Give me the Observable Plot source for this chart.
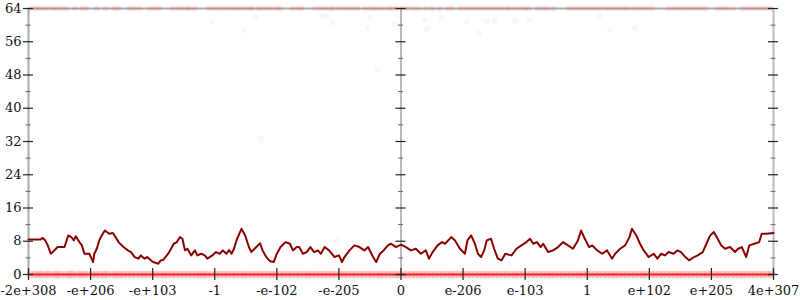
<!DOCTYPE html>
<html><head><meta charset="utf-8">
<script src="https://cdn.jsdelivr.net/npm/d3@7"></script>
<script src="https://cdn.jsdelivr.net/npm/@observablehq/plot@0.6"></script>
<style>body{margin:0;background:#fff} svg{display:block}</style>
</head><body><div id="chart"></div>
<script>
const xTickLabels = ["-2e+308","-e+206","-e+103","-1","-e-102","-e-205","0","e-206","e-103","1","e+102","e+205","4e+307"];
const yMajor = [0,8,16,24,32,40,48,56,64];
const yMinor = [4,12,20,28,36,44,52,60];

const lineX = [0,0.19,0.23,0.27,0.31,0.36,0.39,0.47,0.58,0.64,0.69,0.73,0.76,0.82,0.86,0.90,0.98,1.04,1.06,1.10,1.14,1.18,1.23,1.30,1.36,1.42,1.45,1.53,1.60,1.65,1.71,1.77,1.81,1.87,1.91,1.97,2.01,2.09,2.13,2.17,2.25,2.28,2.34,2.39,2.44,2.48,2.52,2.56,2.62,2.68,2.72,2.78,2.84,2.88,2.96,3.02,3.08,3.13,3.19,3.23,3.27,3.31,3.35,3.43,3.49,3.55,3.59,3.67,3.73,3.77,3.83,3.89,3.95,4.00,4.06,4.14,4.21,4.26,4.32,4.36,4.42,4.48,4.54,4.60,4.66,4.71,4.77,4.84,4.93,5.00,5.05,5.09,5.17,5.25,5.33,5.41,5.47,5.55,5.60,5.66,5.72,5.79,5.84,5.92,6.00,
6.08,6.16,6.24,6.32,6.40,6.45,6.51,6.59,6.66,6.71,6.81,6.87,6.95,7.03,7.07,7.13,7.19,7.24,7.29,7.34,7.38,7.45,7.50,7.56,7.62,7.68,7.78,7.86,7.94,8.02,8.08,8.13,8.19,8.25,8.29,8.37,8.45,8.53,8.61,8.69,8.77,8.85,8.90,8.96,9.03,9.08,9.16,9.24,9.32,9.40,9.45,9.53,9.61,9.68,9.72,9.79,9.85,9.91,9.99,10.07,10.13,10.19,10.25,10.31,10.39,10.45,10.51,10.58,10.64,10.72,10.78,10.86,10.92,10.98,11.04,11.10,11.16,11.22,11.30,11.38,11.43,11.49,11.56,11.61,11.69,11.77,11.81,11.89,12.00];
const lineY = [8.4,8.4,8.8,8.2,7.0,5.0,5.4,6.6,6.6,9.4,9.0,8.2,9.2,7.8,7.0,5.0,5.0,3.0,5.0,6.2,8.2,9.4,10.6,9.8,10.0,8.6,7.8,6.6,5.8,5.4,4.2,3.8,4.6,3.8,4.2,3.4,3.0,2.6,3.4,3.5,5.0,5.8,7.4,7.8,9.0,8.6,5.8,6.2,4.6,5.8,4.6,5.0,4.6,3.8,4.6,5.4,5.0,5.8,5.0,5.9,5.0,6.2,8.2,11.0,9.4,6.6,5.4,6.6,7.5,5.8,4.2,3.2,3.0,5.0,6.6,7.8,7.4,5.8,6.6,6.6,5.0,5.4,6.6,5.4,5.8,5.0,6.6,5.8,4.2,4.6,3.0,4.2,5.8,7.0,6.6,5.8,6.6,4.2,3.0,5.0,5.8,7.0,7.4,6.6,7.2,
6.6,5.8,6.2,5.0,5.8,3.8,5.4,7.0,7.8,7.4,9.0,8.2,6.2,5.0,8.2,9.4,7.4,5.0,4.2,5.8,8.2,8.6,6.2,3.8,3.4,5.0,4.6,6.2,7.0,7.8,8.6,7.4,7.8,6.6,7.4,5.4,5.8,6.6,7.8,7.0,6.2,8.2,10.6,8.6,6.6,7.0,5.8,5.0,5.8,3.8,5.0,6.2,7.0,9.0,11.0,9.4,7.4,5.8,4.2,5.0,3.8,5.0,4.6,5.4,5.0,5.8,5.4,4.2,3.4,4.2,4.6,5.4,7.4,9.4,10.2,8.6,7.0,6.2,6.6,5.4,6.2,6.6,4.2,7.0,7.4,7.8,9.8,9.8,10.0];

const topX = [0.05,0.12,0.18,0.25,0.31,0.4,0.47,0.55,0.62,0.75,0.86,0.93,1.1,1.24,1.38,1.45,1.62,1.7,1.78,1.95,2.03,2.1,2.32,2.4,2.47,2.55,2.6,2.68,2.9,2.97,3.05,3.12,3.2,3.27,3.33,3.4,3.48,3.55,3.6,3.7,3.77,3.85,3.92,4.0,4.06,4.25,4.33,4.4,4.62,4.7,4.77,4.85,4.91,5.0,5.08,5.15,5.22,5.3,5.42,5.5,5.56,5.63,5.72,5.8,5.86,5.93,6.02,6.1,6.2,6.28,6.4,6.5,6.62,6.75,6.82,6.95,7.02,7.1,7.18,7.26,7.33,7.4,7.47,7.55,7.62,7.7,7.76,7.85,7.93,8.0,8.06,8.2,8.28,8.35,8.45,8.7,8.78,8.85,8.93,9.0,9.08,9.15,9.22,9.3,9.37,9.45,9.52,9.6,9.66,9.75,9.82,9.9,9.97,10.05,10.3,10.38,10.45,10.52,10.6,10.68,10.75,10.82,10.9,11.1,11.18,11.25,11.35,11.5,11.58,11.65,11.72,11.8,11.88,11.95];

const bottomX = [0.03,0.1,0.16,0.21,0.28,0.33,0.41,0.46,0.52,0.6,0.66,0.71,0.79,0.85,0.9,0.97,1.03,1.09,1.15,1.22,1.27,1.35,1.41,1.47,1.53,1.6,1.66,1.73,1.8,1.86,1.92,1.99,2.05,2.12,2.18,2.24,2.31,2.37,2.44,2.5,2.57,2.63,2.7,2.76,2.82,2.88,2.95,3.02,3.08,3.15,3.21,3.28,3.34,3.41,3.47,3.53,3.6,3.66,3.73,3.79,3.86,3.92,3.98,4.05,4.11,4.18,4.24,4.31,4.37,4.44,4.5,4.56,4.63,4.69,4.76,4.82,4.89,4.95,5.02,5.08,5.14,5.21,5.27,5.34,5.4,5.47,5.53,5.6,5.66,5.72,5.79,5.85,5.92,5.97,6.04,6.1,6.17,6.23,6.3,6.36,6.42,6.49,6.55,6.62,6.68,6.75,6.81,6.87,6.94,7.0,7.07,7.13,7.2,7.26,7.33,7.39,7.45,7.52,7.58,7.65,7.71,7.78,7.84,7.9,7.97,8.03,8.1,8.16,8.23,8.29,8.36,8.42,8.48,8.55,8.61,8.68,8.74,8.81,8.87,8.93,9.0,9.06,9.13,9.19,9.26,9.32,9.39,9.45,9.51,9.58,9.64,9.71,9.77,9.84,9.9,9.96,10.03,10.09,10.16,10.22,10.29,10.35,10.42,10.48,10.54,10.61,10.67,10.74,10.8,10.87,10.93,10.99,11.06,11.12,11.19,11.25,11.32,11.38,11.45,11.51,11.57,11.64,11.7,11.77,11.83,11.9,11.96];

const scatterX = [2.96,3.66,3.48,4.73,4.80,4.90,5.49,5.46,5.90,5.62,6.38,6.65,7.06,7.38,7.51,7.84,8.07,9.20,6.41,7.26,9.36,9.76,3.74,4.96];
const scatterY = [60.7,61.9,58.7,62.2,62.2,60.6,61.9,59.5,60.2,49.3,61.3,61.7,60.7,61.0,61.0,61.0,61.2,62.2,59.0,58.1,59.0,59.4,32.7,8.2];

const xTicks = xTickLabels.map((_, i) => i);
const zeroIdx = xTickLabels.indexOf("0");
const lastIdx = xTickLabels.length - 1;
const lineData = lineX.map((x, i) => ({x, y: lineY[i]}));
const scatter = scatterX.map((x, i) => ({x, y: scatterY[i]}));
const font = "DejaVu Serif";

function yTicksAt(xv) {
  return [
    Plot.ruleY(yMinor, {y: d => d, x1: xv, x2: xv, insetLeft: -2.5, insetRight: -2.5, stroke: "#666", strokeWidth: 1}),
    Plot.ruleY(yMajor, {y: d => d, x1: xv, x2: xv, insetLeft: -5, insetRight: -5, stroke: "#222", strokeWidth: 1.2})
  ];
}

const chart = Plot.plot({
  width: 800, height: 300,
  marginLeft: 28, marginRight: 27, marginTop: 8, marginBottom: 26,
  x: {domain: [0, lastIdx], axis: null},
  y: {domain: [0, 64], axis: null},
  style: {fontFamily: font, fontSize: "13px", background: "#fff", overflow: "visible"},
  marks: [
    Plot.ruleY([64], {stroke: "#aaa", strokeWidth: 2}),
    Plot.ruleX([0], {stroke: "#aaa", strokeWidth: 2}),
    Plot.ruleX([lastIdx], {stroke: "#bbb", strokeWidth: 2}),
    Plot.ruleX([zeroIdx], {stroke: "#777", strokeWidth: 1}),
    Plot.dot(topX, {x: d => d, y: 64, r: 3, fill: "red", fillOpacity: 0.1}),
    Plot.dot(scatter, {x: "x", y: "y", r: 3, fill: "red", fillOpacity: 0.04}),
    Plot.dot(bottomX, {x: d => d, y: 0, r: 4, fill: "red", fillOpacity: 0.16}),
    Plot.ruleY([0], {stroke: "#e8262b", strokeWidth: 2}),
    ...yTicksAt(0),
    ...yTicksAt(zeroIdx),
    ...yTicksAt(lastIdx),
    Plot.ruleX(xTicks, {x: d => d, y1: 0, y2: 0, insetTop: -6, insetBottom: -6, stroke: "#222", strokeWidth: 1.2}),
    Plot.line(lineData, {x: "x", y: "y", stroke: "#8b0000", strokeWidth: 2}),
    Plot.text(yMajor, {x: 0, y: d => d, text: d => String(d), textAnchor: "end", dx: -7, fill: "#111", fontSize: 13, fontFamily: font}),
    Plot.text(xTicks, {x: d => d, y: 0, text: d => xTickLabels[d], dy: 16, fill: "#111", fontSize: 13, fontFamily: font})
  ]
});
document.getElementById("chart").appendChild(chart);
</script>
</body></html>
